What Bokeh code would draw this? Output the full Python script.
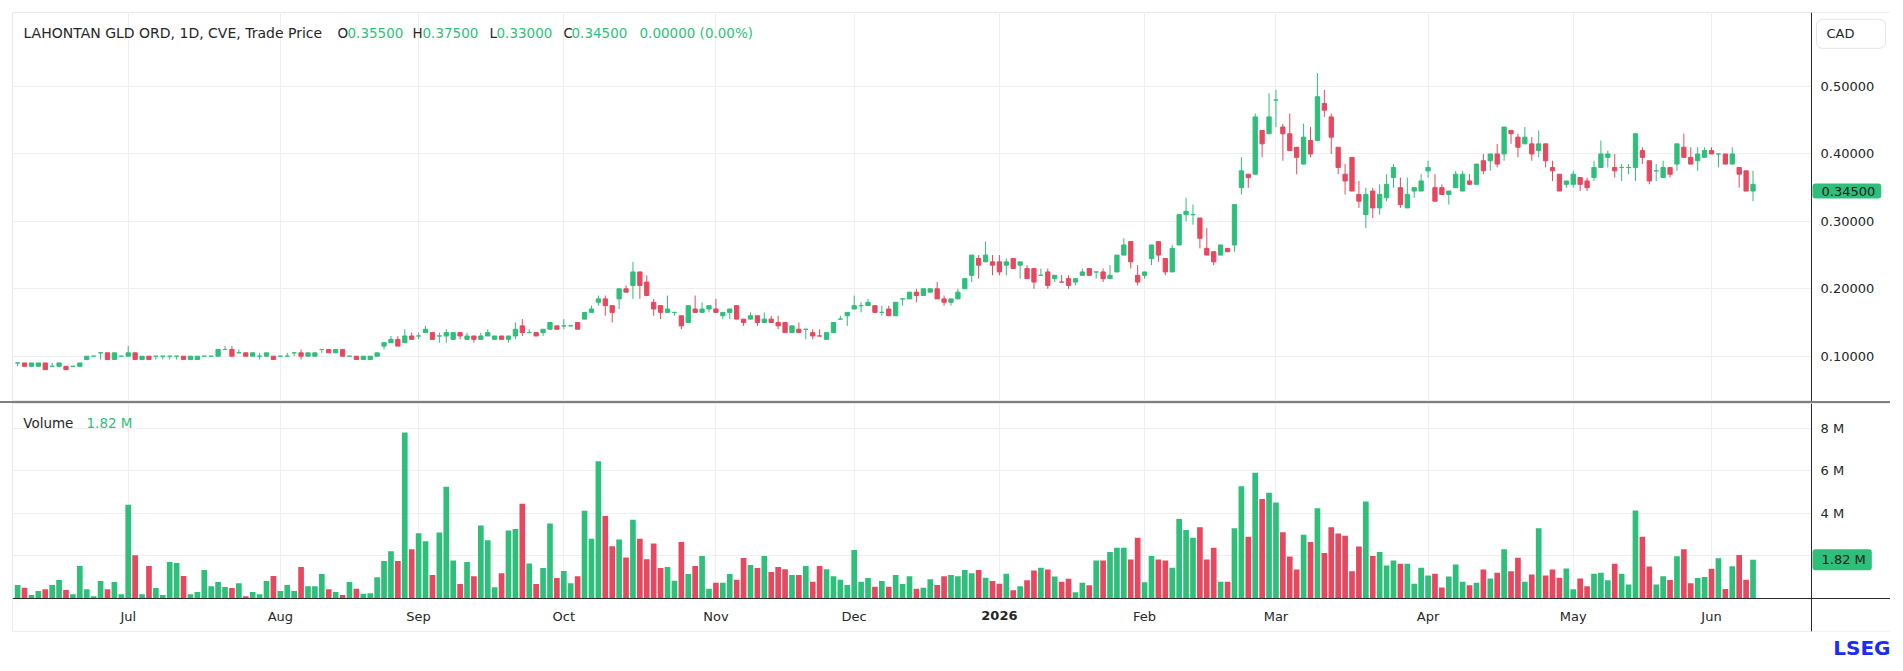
import pandas as pd
from bokeh.plotting import figure
from bokeh.layouts import column
from bokeh.models import (Range1d, FixedTicker, PrintfTickFormatter, LinearAxis,
                          CustomJSTickFormatter, Label, ColumnDataSource,
                          BoxAnnotation, Title)
from bokeh.embed import file_html
from bokeh.resources import INLINE

# ---------------- data ----------------
open_ = [
    .09, .09, .085, .085, .09, .085, .085, .085, .085, .085,
    .095, .10, .105, .105, .095, .10, .10, .105, .095, .10,
    .10, .10, .10, .10, .10, .095, .095, .10, .10, .10,
    .11, .11, .105, .105, .10, .10, .10, .10, .10, .10,
    .105, .105, .10, .10, .11, .11, .105, .11, .10, .10,
    .095, .095, .10, .115, .12, .125, .12, .13, .13, .135,
    .135, .13, .13, .125, .135, .125, .13, .125, .13, .125,
    .13, .125, .13, .145, .135, .135, .135, .14, .145, .145,
    .145, .15, .155, .165, .18, .185, .175, .185, .20, .205,
    .225, .21, .18, .175, .165, .165, .16, .15, .17, .165,
    .17, .17, .16, .165, .175, .155, .155, .16, .15, .155,
    .15, .15, .135, .14, .14, .135, .13, .125, .135, .155,
    .16, .17, .175, .175, .175, .165, .17, .16, .185, .185,
    .195, .19, .195, .20, .185, .18, .185, .20, .22, .245,
    .24, .24, .24, .235, .245, .235, .23, .23, .22, .225,
    .215, .21, .215, .21, .22, .23, .225, .225, .215, .225,
    .25, .27, .22, .22, .245, .27, .245, .225, .265, .31,
    .31, .305, .26, .255, .25, .26, .265, .35, .37, .37,
    .435, .43, .48, .44, .43, .41, .385, .42, .42, .475,
    .455, .41, .37, .395, .34, .31, .345, .32, .335, .365,
    .35, .32, .345, .345, .375, .35, .35, .34, .35, .345,
    .36, .355, .39, .39, .40, .40, .435, .425, .415, .415,
    .405, .415, .38, .37, .355, .355, .365, .36, .365, .38,
    .395, .38, .38, .38, .38, .405, .39, .375, .365, .38,
    .385, .41, .395, .39, .395, .405, .40, .40, .385, .38,
    .375, .355,
]
high = [
    .09, .09, .09, .09, .09, .09, .09, .085, .085, .09,
    .10, .10, .105, .105, .105, .10, .115, .105, .10, .10,
    .10, .10, .10, .10, .10, .10, .10, .10, .10, .11,
    .115, .115, .11, .105, .105, .105, .105, .10, .10, .105,
    .105, .11, .105, .105, .11, .11, .11, .11, .10, .10,
    .10, .10, .105, .12, .13, .13, .14, .135, .135, .145,
    .135, .135, .14, .135, .135, .135, .13, .135, .14, .13,
    .13, .13, .15, .155, .14, .135, .14, .15, .145, .155,
    .145, .15, .165, .175, .19, .19, .175, .20, .205, .24,
    .225, .22, .185, .175, .19, .165, .16, .175, .19, .18,
    .175, .185, .165, .17, .175, .155, .165, .16, .165, .16,
    .16, .15, .145, .15, .14, .14, .14, .135, .15, .16,
    .165, .19, .18, .185, .175, .175, .175, .18, .185, .195,
    .20, .20, .20, .21, .19, .185, .20, .215, .25, .25,
    .27, .25, .25, .245, .245, .24, .235, .23, .23, .23,
    .22, .22, .22, .215, .23, .23, .225, .23, .235, .25,
    .275, .27, .235, .225, .265, .27, .245, .265, .31, .335,
    .325, .305, .29, .255, .265, .26, .325, .395, .37, .46,
    .435, .49, .495, .445, .46, .41, .445, .44, .52, .495,
    .46, .41, .385, .395, .36, .35, .35, .355, .37, .385,
    .365, .365, .35, .37, .39, .37, .355, .345, .375, .375,
    .37, .385, .40, .40, .415, .44, .435, .43, .44, .425,
    .435, .415, .39, .37, .36, .375, .365, .365, .39, .42,
    .405, .40, .385, .385, .43, .41, .39, .385, .39, .38,
    .415, .43, .41, .41, .41, .41, .40, .40, .41, .38,
    .375, .375,
]
low = [
    .085, .085, .085, .085, .08, .085, .085, .08, .085, .085,
    .095, .10, .095, .095, .095, .10, .10, .095, .095, .095,
    .095, .095, .095, .095, .095, .095, .095, .10, .10, .10,
    .11, .10, .105, .10, .10, .095, .10, .095, .10, .10,
    .10, .095, .10, .10, .105, .105, .105, .10, .10, .095,
    .095, .095, .10, .11, .12, .115, .12, .125, .125, .135,
    .125, .12, .12, .125, .125, .125, .12, .125, .13, .125,
    .125, .12, .125, .13, .135, .13, .13, .14, .14, .14,
    .145, .14, .155, .165, .175, .16, .15, .17, .195, .185,
    .185, .19, .16, .155, .165, .16, .14, .15, .165, .165,
    .165, .165, .155, .155, .155, .145, .155, .145, .15, .15,
    .14, .135, .135, .135, .125, .125, .13, .125, .135, .155,
    .145, .17, .165, .175, .165, .16, .16, .16, .175, .185,
    .18, .19, .195, .185, .175, .175, .185, .20, .21, .215,
    .24, .22, .22, .22, .23, .215, .215, .20, .22, .20,
    .21, .21, .20, .205, .22, .22, .215, .21, .215, .225,
    .25, .23, .205, .215, .235, .24, .22, .225, .265, .30,
    .295, .26, .25, .235, .25, .255, .255, .34, .35, .37,
    .395, .43, .44, .39, .405, .37, .385, .395, .42, .455,
    .40, .37, .34, .345, .32, .29, .305, .31, .33, .35,
    .32, .32, .335, .345, .365, .33, .34, .325, .35, .345,
    .355, .355, .37, .375, .38, .39, .415, .395, .415, .39,
    .395, .38, .36, .345, .35, .35, .345, .345, .36, .38,
    .38, .365, .36, .37, .36, .385, .355, .36, .365, .365,
    .375, .395, .385, .375, .395, .40, .38, .385, .385, .35,
    .345, .33,
]
close = [
    .09, .085, .09, .09, .08, .085, .09, .08, .085, .09,
    .10, .10, .105, .095, .105, .10, .105, .095, .10, .095,
    .10, .10, .10, .10, .095, .10, .10, .10, .10, .11,
    .11, .10, .105, .10, .105, .10, .105, .095, .10, .10,
    .105, .10, .105, .105, .11, .105, .11, .10, .10, .095,
    .10, .10, .105, .12, .125, .115, .13, .125, .13, .14,
    .125, .13, .135, .135, .13, .13, .125, .13, .135, .13,
    .125, .13, .14, .135, .135, .13, .14, .15, .14, .145,
    .145, .14, .165, .17, .185, .175, .165, .20, .195, .225,
    .205, .19, .17, .165, .17, .165, .145, .175, .165, .17,
    .175, .165, .165, .17, .155, .15, .16, .15, .155, .15,
    .145, .135, .145, .135, .14, .13, .13, .135, .15, .155,
    .165, .175, .175, .18, .165, .165, .16, .18, .185, .195,
    .19, .20, .20, .185, .18, .185, .195, .215, .25, .235,
    .25, .235, .225, .24, .23, .24, .215, .21, .22, .205,
    .22, .21, .205, .215, .225, .22, .225, .215, .22, .25,
    .265, .24, .21, .225, .265, .25, .225, .26, .31, .315,
    .31, .275, .25, .24, .265, .255, .325, .375, .365, .455,
    .415, .455, .48, .43, .405, .395, .425, .40, .485, .465,
    .425, .38, .36, .345, .33, .34, .32, .34, .355, .38,
    .325, .34, .35, .36, .38, .33, .34, .345, .37, .37,
    .355, .385, .375, .40, .385, .44, .43, .41, .425, .40,
    .415, .39, .375, .345, .36, .37, .355, .35, .38, .40,
    .40, .375, .38, .38, .43, .395, .36, .375, .38, .37,
    .415, .395, .385, .40, .405, .40, .40, .385, .40, .37,
    .345, .345,
]
volume_m = [
    .63, .50, .16, .35, .44, .63, .87, .40, .20, 1.53,
    .44, .11, .82, .44, .77, .20, 4.40, 2.03, .20, 1.53,
    .49, .16, 1.72, 1.67, 1.06, .20, .30, 1.34, .58, .77,
    .54, .49, .72, .11, .30, .20, .82, 1.06, .35, .63,
    .35, 1.48, .58, .58, 1.15, .44, .31, .16, .77, .46,
    .22, .25, 1.00, 1.76, 2.22, 1.76, 7.80, 2.31, 3.07, 2.69,
    1.10, 3.10, 5.25, 1.79, .68, 1.71, 1.05, 3.43, 2.74, .53,
    1.19, 3.19, 3.27, 4.45, 1.65, .68, 1.43, 3.52, .96, 1.29,
    .72, 1.05, 4.12, 2.81, 6.45, 3.88, 2.45, 2.77, 1.93, 3.70,
    2.81, 1.84, 2.59, 1.43, 1.48, .83, 2.66, 1.15, 1.53, 2.00,
    .46, .74, .74, 1.15, .88, 1.90, 1.57, 1.43, 2.00, 1.24,
    1.48, 1.38, 1.10, 1.10, 1.53, .79, 1.53, 1.38, 1.05, .88,
    .64, 2.28, .79, .96, .55, .82, .55, 1.10, .68, 1.05,
    .46, .50, .91, .64, 1.05, 1.10, 1.05, 1.34, 1.19, 1.34,
    .97, .82, .69, 1.16, .39, .57, .86, 1.31, 1.45, 1.36,
    1.03, .79, .93, .29, .74, .62, 1.78, 1.78, 2.19, 2.39,
    2.39, 1.83, 2.85, .76, 2.00, 1.83, 1.78, 1.45, 3.74, 3.22,
    2.85, 3.35, 1.83, 2.39, .79, .79, 3.30, 5.27, 2.90, 5.91,
    4.68, 4.97, 4.51, 3.11, 1.97, 1.36, 3.00, 2.66, 4.24, 2.14,
    3.35, 3.05, 2.95, 1.28, 2.44, 4.56, 2.00, 2.19, 1.55, 1.78,
    1.63, 1.63, .69, 1.45, 1.08, 1.16, .52, 1.03, 1.60, .79,
    .62, .74, 1.36, .94, 1.21, 2.31, 1.28, 1.92, .79, 1.13,
    3.30, 1.08, 1.36, .98, 1.41, .44, .94, .57, 1.16, 1.21,
    .86, 1.63, 1.16, .66, 4.14, 2.90, 1.50, .66, 1.04, .87,
    1.99, 2.32, .72, .96, 1.01, 1.40, 1.89, .45, 1.52, 2.04,
    .88, 1.82,
]
# candle / volume colour per session: g = up, r = down
direction = (
    "grggrggrgg" "gggrgggrgr" "ggggrggggg" "grgrgggrgg" "grgggrgrgr"
    "gggggrgrgg" "rgggrgrggg" "rggrgrggrg" "grgggrrgrg" "rrrrggrgrg"
    "grggrrgrgr" "rrgrgrrggg" "ggggrgrggg" "rggrrggggr" "grrgrgrrgr"
    "grrggrgrgg" "grrggrrggg" "grrrgrggrg" "rggrrrgrgr" "rrrrrgrggg"
    "rggggrrggg" "rgrgrgrrgr" "grrrggrrgg" "grgggrrggr" "grrggrgrgr"
    "rg"
)
month_labels = ["Jul", "Aug", "Sep", "Oct", "Nov", "Dec", "2026",
                "Feb", "Mar", "Apr", "May", "Jun"]
price_ticks = [0.1, 0.2, 0.3, 0.4, 0.5]
volume_ticks = [2e6, 4e6, 6e6, 8e6]
header_name = "LAHONTAN GLD ORD, 1D, CVE, Trade Price"
header_ohlc = ["0.35500", "0.37500", "0.33000", "0.34500"]
header_change = "0.00000 (0.00%)"
last_price = 0.345
last_volume = 1.82e6
currency = "CAD"

# trading calendar (TSX/TSXV sessions)
holidays = ["2025-07-01", "2025-08-04", "2025-09-01", "2025-10-13",
            "2025-12-25", "2025-12-26", "2026-01-01", "2026-02-16",
            "2026-04-03", "2026-05-18"]
days = pd.bdate_range("2025-06-09", "2026-06-09")
days = days[~days.isin(pd.to_datetime(holidays))]

n = min(len(open_), len(high), len(low), len(close), len(volume_m), len(direction))
days = days[:n]
idx = list(range(n))
month_starts = [i for i in range(1, n) if days[i].month != days[i - 1].month]

# ---------------- style ----------------
FONT = "DejaVu Sans"
GREEN = "#2EBF7A"
RED = "#E6485F"
TEXT = "#262626"
GRID = "#efefef"
AXIS = "#2b2b2b"
BORDER = "#e9e9e9"

colors = [GREEN if d == "g" else RED for d in direction[:n]]
src = ColumnDataSource(dict(
    x=idx, open=open_[:n], high=high[:n], low=low[:n], close=close[:n],
    top=[max(o, c) for o, c in zip(open_[:n], close[:n])],
    bottom=[min(o, c) for o, c in zip(open_[:n], close[:n])],
    volume=[v * 1e6 for v in volume_m[:n]], color=colors))

# horizontal scale: 6.914 px per session, frames from x=12 to x=1890
PX = 6.914
X0 = -0.7376
X1 = X0 + 1878 / PX
AXIS_X = X0 + 1799 / PX          # price-scale separator at x = 1811
xr = Range1d(X0, X1)
W = 1890


def style_axis(ax, standoff):
    ax.major_tick_line_color = None
    ax.minor_tick_line_color = None
    ax.major_tick_out = 0
    ax.major_tick_in = 0
    ax.axis_line_color = AXIS
    ax.major_label_text_font = FONT
    ax.major_label_text_font_size = "13px"
    ax.major_label_text_color = TEXT
    ax.major_label_standoff = standoff


def label(p, x, y, text, color=TEXT, size="13px", xu="screen", yu="screen",
          style="normal", align="left", **kw):
    lab = Label(x=x, y=y, x_units=xu, y_units=yu, text=text, text_color=color,
                text_font=FONT, text_font_size=size, text_font_style=style,
                text_align=align, text_baseline="middle", **kw)
    p.add_layout(lab)
    return lab


# ---------------- price pane ----------------
p1 = figure(width=W, height=401, x_range=xr, y_range=Range1d(0.03279, 0.6099),
            output_backend="svg", toolbar_location=None,
            x_axis_location=None, y_axis_location=None,
            min_border_left=12, min_border_right=0,
            min_border_top=12, min_border_bottom=0)
p1.outline_line_color = BORDER
p1.border_fill_color = "white"

p1.ygrid.ticker = FixedTicker(ticks=price_ticks)
p1.xgrid.ticker = FixedTicker(ticks=month_starts)
p1.grid.grid_line_color = GRID
p1.add_layout(BoxAnnotation(left=AXIS_X, fill_color="white", fill_alpha=1,
                            line_color=None, level="underlay"))

yax1 = LinearAxis(ticker=FixedTicker(ticks=price_ticks),
                  formatter=PrintfTickFormatter(format="%.5f"),
                  fixed_location=AXIS_X)
style_axis(yax1, 9)
p1.add_layout(yax1, "right")

p1.segment(x0="x", y0="high", x1="x", y1="low", color="color", line_width=1, source=src)
p1.vbar(x="x", width=0.62, top="top", bottom="bottom", fill_color="color",
        line_color="color", line_width=1, source=src)

# header line (positions relative to the price frame)
hy = 368.5
label(p1, 11, hy, header_name, size="14px")
for letter, val, lx, vx in zip("OHLC", header_ohlc, [325, 400, 477, 551], [335, 410, 484, 559]):
    label(p1, lx, hy, letter, size="13.5px")
    label(p1, vx, hy, val, color=GREEN, size="13.5px")
label(p1, 627, hy, header_change, color=GREEN, size="13.5px")

# currency box
label(p1, 1804, 367.7, currency, background_fill_color="white",
      border_line_color="#e4e4e4", border_radius=6,
      padding=dict(left=10, right=31, top=7, bottom=7))
# last price tag
label(p1, 1800, last_price, "%.5f" % last_price, yu="data", color="#1a1a1a",
      background_fill_color=GREEN, border_radius=3,
      padding=dict(left=9, right=6, top=3, bottom=3))

# ---------------- volume pane ----------------
VPX = 21.28  # px per million
p2 = figure(width=W, height=268, x_range=xr,
            y_range=Range1d(-33 / VPX * 1e6, 195 / VPX * 1e6),
            output_backend="svg", toolbar_location=None,
            x_axis_location=None, y_axis_location=None,
            min_border_left=12, min_border_right=0,
            min_border_top=0, min_border_bottom=40)
p2.outline_line_color = BORDER
p2.border_fill_color = "white"
p2.styles = {"border-top": "2px solid #7f7f7f"}

p2.ygrid.ticker = FixedTicker(ticks=volume_ticks)
p2.xgrid.ticker = FixedTicker(ticks=month_starts)
p2.grid.grid_line_color = GRID
p2.add_layout(BoxAnnotation(left=AXIS_X, fill_color="white", fill_alpha=1,
                            line_color=None, level="underlay"))
p2.add_layout(BoxAnnotation(top=0, fill_color="white", fill_alpha=1,
                            line_color=None, level="underlay"))

yax2 = LinearAxis(ticker=FixedTicker(ticks=volume_ticks),
                  formatter=CustomJSTickFormatter(code="return (tick / 1e6).toFixed(0) + ' M';"),
                  fixed_location=AXIS_X)
style_axis(yax2, 9)
p2.add_layout(yax2, "right")

overrides = {}
for i, lab_text in zip(month_starts, month_labels):
    overrides[i] = "" if lab_text == "2026" else lab_text
xax = LinearAxis(ticker=FixedTicker(ticks=month_starts), fixed_location=0,
                 major_label_overrides=overrides)
style_axis(xax, 10)
p2.add_layout(xax, "below")

p2.vbar(x="x", width=0.82, top="volume", bottom=0, fill_color="color",
        line_color=None, source=src)

label(p2, 10.7, 208.5, "Volume", size="13.5px")
label(p2, 74, 208.5, "%.2f M" % (last_volume / 1e6), color=GREEN, size="13.5px")
label(p2, 1800, last_volume, "%.2f M" % (last_volume / 1e6), yu="data", color="#1a1a1a",
      background_fill_color=GREEN, border_radius=3,
      padding=dict(left=9, right=6, top=3, bottom=3))
for i, lab_text in zip(month_starts, month_labels):
    if lab_text == "2026":
        label(p2, i, -17 / VPX * 1e6, lab_text, xu="data", yu="data",
              style="bold", align="center")

p2.add_layout(Title(text="LSEG", align="right", text_color="#1a2cf5",
                    text_font=FONT, text_font_size="20px", text_font_style="bold",
                    text_line_height=0.8, standoff=4), "below")

layout = column(p1, p2, spacing=0)
open("out.html", "w").write(file_html(layout, INLINE, title="LAHONTAN GLD ORD"))
